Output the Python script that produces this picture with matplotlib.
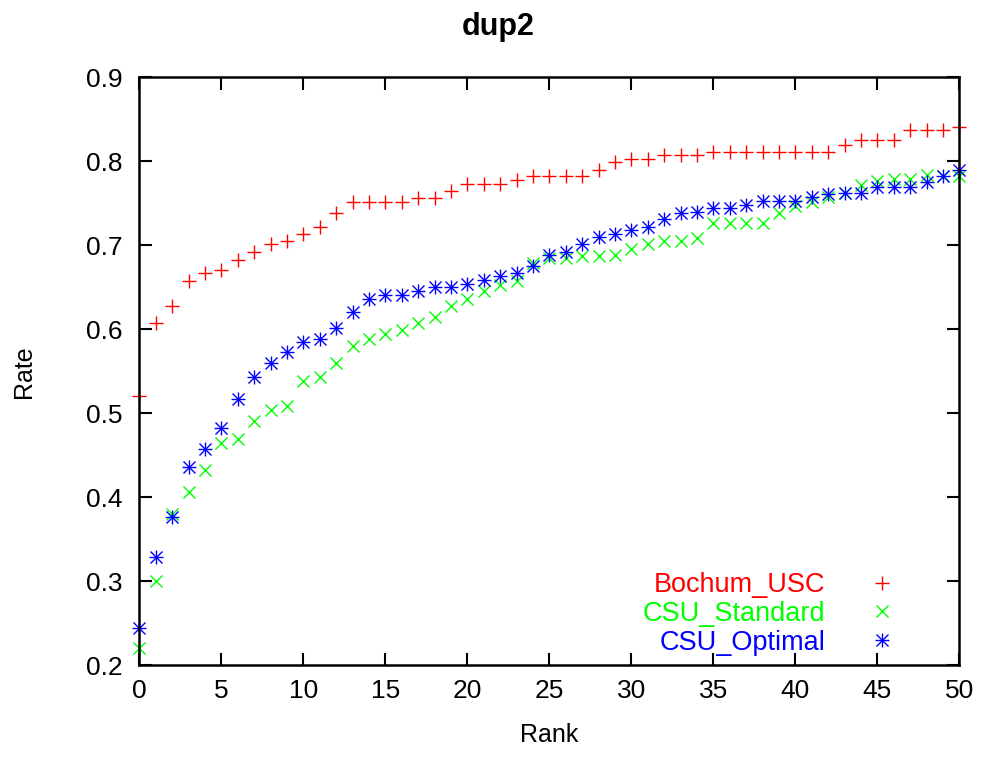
import matplotlib
matplotlib.use("Agg")
import matplotlib.pyplot as plt
from matplotlib.legend_handler import HandlerTuple

ranks = list(range(51))
bochum_usc = [0.521, 0.607, 0.628, 0.658, 0.667, 0.671, 0.683, 0.692, 0.701, 0.705,
              0.713, 0.722, 0.739, 0.752, 0.752, 0.752, 0.752, 0.756, 0.756, 0.765,
              0.773, 0.773, 0.773, 0.778, 0.782, 0.782, 0.782, 0.782, 0.790, 0.799,
              0.803, 0.803, 0.807, 0.807, 0.807, 0.811, 0.811, 0.811, 0.811, 0.811,
              0.811, 0.811, 0.811, 0.819, 0.825, 0.825, 0.825, 0.837, 0.837, 0.837,
              0.841]
csu_standard = [0.221, 0.300, 0.380, 0.406, 0.432, 0.465, 0.469, 0.491, 0.504, 0.509,
                0.538, 0.543, 0.560, 0.580, 0.589, 0.594, 0.599, 0.607, 0.615, 0.628,
                0.636, 0.645, 0.653, 0.657, 0.679, 0.685, 0.685, 0.687, 0.687, 0.688,
                0.696, 0.701, 0.705, 0.705, 0.709, 0.726, 0.726, 0.726, 0.726, 0.738,
                0.747, 0.752, 0.757, 0.762, 0.772, 0.776, 0.779, 0.779, 0.784, 0.783,
                0.782]
csu_optimal = [0.244, 0.329, 0.376, 0.436, 0.457, 0.483, 0.517, 0.543, 0.560, 0.573,
               0.585, 0.589, 0.602, 0.620, 0.636, 0.641, 0.641, 0.646, 0.650, 0.650,
               0.654, 0.659, 0.663, 0.667, 0.675, 0.688, 0.692, 0.701, 0.710, 0.714,
               0.718, 0.722, 0.731, 0.739, 0.740, 0.744, 0.744, 0.748, 0.753, 0.753,
               0.753, 0.757, 0.761, 0.762, 0.762, 0.770, 0.769, 0.769, 0.775, 0.782,
               0.790]

series_names = ["Bochum_USC", "CSU_Standard", "CSU_Optimal"]
x_ticks = [0, 5, 10, 15, 20, 25, 30, 35, 40, 45, 50]
y_ticks = [0.2, 0.3, 0.4, 0.5, 0.6, 0.7, 0.8, 0.9]

RED, GREEN, BLUE = "#ff0000", "#00ff00", "#0000ff"
plt.rcParams['font.family'] = ['Liberation Sans', 'DejaVu Sans']

fig = plt.figure(figsize=(9.81, 7.61), dpi=100)
ax = fig.add_axes([0.142, 0.1258, 0.836, 0.7726])

mew = 1.0
kw = dict(linestyle='none', mew=mew, clip_on=False)
h1, = ax.plot(ranks, bochum_usc, marker='+', color=RED, ms=10.5, **kw)
h2, = ax.plot(ranks, csu_standard, marker='x', color=GREEN, ms=8.5, **kw)
h3a, = ax.plot(ranks, csu_optimal, marker='+', color=BLUE, ms=10.5, **kw)
h3b, = ax.plot(ranks, csu_optimal, marker='x', color=BLUE, ms=8.5, **kw)

ax.set_xlim(0, 50)
ax.set_ylim(0.2, 0.9)
ax.set_xticks(x_ticks)
ax.set_yticks(y_ticks)
ax.set_yticklabels([f"{v:.1f}" for v in y_ticks])
ax.tick_params(direction='in', length=9, width=1.5, top=True, right=True,
               labelsize=19, colors='black')
ax.tick_params(axis='x', pad=10)
ax.tick_params(axis='y', pad=12)
for s in ax.spines.values():
    s.set_linewidth(1.8)

fig.text(498 / 981, 1 - 27 / 761, "dup2", fontsize=22, fontweight='bold',
         ha='center', va='center')
ax.set_xlabel("Rank", fontsize=18, labelpad=14)
ax.set_ylabel("Rate", fontsize=18, labelpad=36)

leg = ax.legend([h1, h2, (h3a, h3b)], series_names,
                handler_map={tuple: HandlerTuple(ndivide=1)},
                loc='lower right', bbox_to_anchor=(0.922, 0.0165), markerfirst=False,
                frameon=False, fontsize=19.5, handlelength=1.0, handletextpad=1.6,
                labelspacing=0.1, borderaxespad=0.0, borderpad=0.0)
for t, c in zip(leg.get_texts(), [RED, GREEN, BLUE]):
    t.set_color(c)

fig.savefig("out.png", dpi=100)
